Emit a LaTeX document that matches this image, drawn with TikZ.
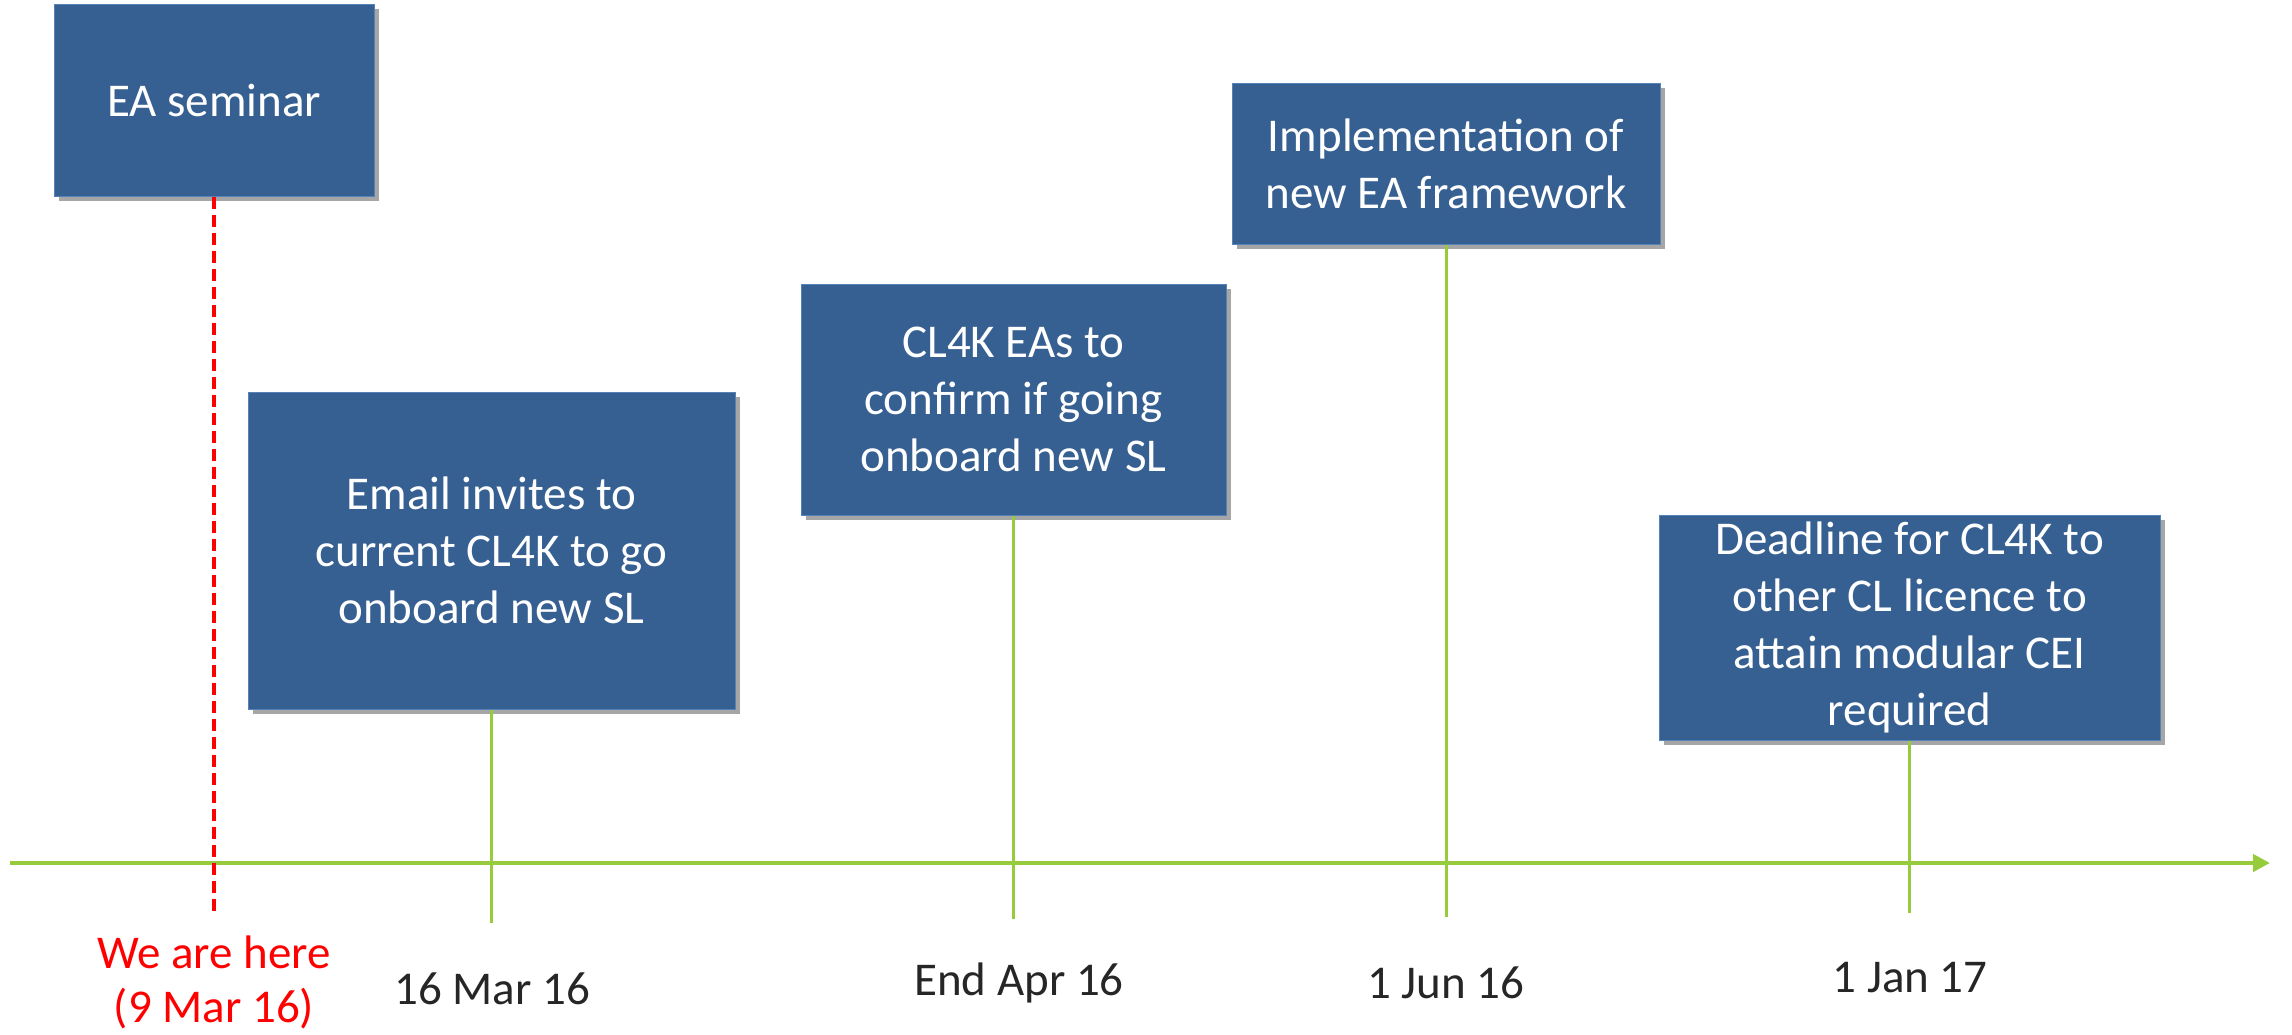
\documentclass[tikz,border=0pt]{standalone}
\usepackage{fontspec}
\setmainfont{Carlito}
\usetikzlibrary{arrows.meta,shadows}
\definecolor{boxblue}{RGB}{55,96,146}
\definecolor{boxedge}{RGB}{85,130,185}
\definecolor{tlgreen}{RGB}{150,204,60}
\definecolor{datetext}{RGB}{38,38,38}
\begin{document}
\begin{tikzpicture}[x=1pt,y=-1pt,
  evbox/.style={rectangle, fill=boxblue, draw=boxedge, line width=1pt, text=white,
    align=center, inner sep=0pt, font=\fontsize{47}{57}\selectfont,
    drop shadow={shadow xshift=5pt, shadow yshift=-5pt, opacity=0.35, fill=black}},
  datelbl/.style={text=datetext, align=center, inner sep=0pt, font=\fontsize{47}{54}\selectfont},
  tick/.style={draw=tlgreen, line width=3pt},
  herelbl/.style={text=red, align=center, inner sep=0pt, font=\fontsize{47}{54}\selectfont},
]
\useasboundingbox (0,0) rectangle (2292,1034);

% boxes
\node[evbox, minimum width=320pt, minimum height=192pt] (ea) at (214,100) {EA seminar};
\node[evbox, minimum width=487pt, minimum height=317pt] (em) at (491.5,550.5)
  {Email invites to\\current CL4K to go\\onboard new SL};
\node[evbox, minimum width=425pt, minimum height=231pt] (cl) at (1013.5,399.5)
  {CL4K EAs to\\confirm if going\\onboard new SL};
\node[evbox, minimum width=428pt, minimum height=161pt] (im) at (1446,163.5)
  {Implementation of\\new EA framework};
\node[evbox, minimum width=501pt, minimum height=225pt] (dl) at (1909.5,627.5)
  {Deadline for CL4K to\\other CL licence to\\attain modular CEI\\required};

% axis
\coordinate (axs) at (10,863);
\coordinate (axe) at (2270,863);
\draw[draw=tlgreen, line width=4.5pt, -{Triangle[length=17pt,width=17pt]}] (axs) -- (axe);

% tick end points
\coordinate (eaend) at (214,914);
\coordinate (emend) at (491.5,923);
\coordinate (clend) at (1013.5,919);
\coordinate (imend) at (1446,917);
\coordinate (dlend) at (1909.5,913);

% connectors
\draw[red, line width=3.5pt, dash pattern=on 12pt off 6pt] (ea.south) -- (eaend);
\draw[tick] (em.south) -- (emend);
\draw[tick] (cl.south) -- (clend);
\draw[tick] (im.south) -- (imend);
\draw[tick] (dl.south) -- (dlend);

% labels
\node[herelbl] (here) at (214,982) {We are here\\(9 Mar 16)};
\node[datelbl] (d1) at (492,989) {16 Mar 16};
\node[datelbl] (d2) at (1019,983) {End Apr 16};
\node[datelbl] (d3) at (1446,983) {1 Jun 16};
\node[datelbl] (d4) at (1910,978) {1 Jan 17};
\end{tikzpicture}
\end{document}
